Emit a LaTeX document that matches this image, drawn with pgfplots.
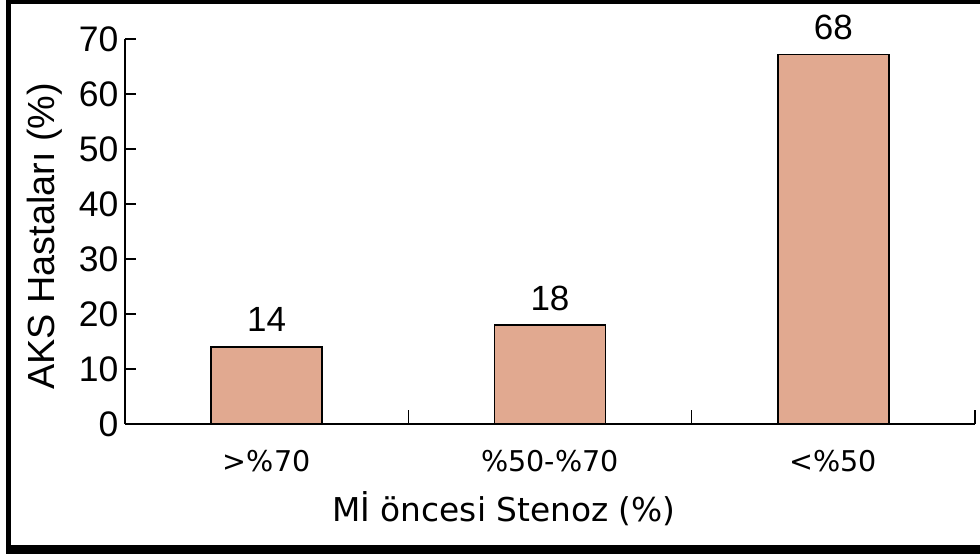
\documentclass[border=0pt]{standalone}
\usepackage{pgfplots}
\pgfplotsset{compat=1.18}
\usepackage{fontspec}
\setmainfont{Liberation Sans}
\newfontfamily\dejavu{DejaVu Sans}
\definecolor{barfill}{RGB}{225,169,144}
\begin{document}
\begin{tikzpicture}[x=1pt,y=1pt]
\useasboundingbox (0,0) rectangle (980,554);
\fill[black] (6,0) rectangle (11,554);
\fill[black] (6,550) rectangle (980,554);
\fill[black] (6,0) rectangle (980,9);
\begin{axis}[
  at={(125pt,130pt)}, anchor=south west,
  scale only axis, width=850pt, height=385pt,
  xmin=-0.5, xmax=2.5, ymin=0, ymax=70,
  clip=false,
  ybar, bar width=111pt,
  axis lines*=left,
  axis line style={line width=1.5pt},
  tick align=inside,
  ytick={0,10,...,70},
  ytick style={line width=1.5pt, black},
  major tick length=11pt,
  xtick={0,1,2},
  xticklabels={>\%70, \%50-\%70, <\%50},
  xtick style={draw=none},
  extra x ticks={0.5,1.5,2.5},
  extra x tick labels={},
  extra x tick style={xtick style={draw=black, line width=1.5pt}, major tick length=14pt},
  /pgf/number format/assume math mode=true,
  yticklabel style={font=\fontsize{35.5}{42}\selectfont, xshift=-3pt},
  xticklabel style={font=\dejavu\fontsize{28.6}{34}\selectfont, anchor=base, yshift=-48pt},
  xlabel={Mİ öncesi Stenoz (\%)},
  xlabel style={font=\dejavu\fontsize{32.8}{39}\selectfont, at={(axis description cs:0.446,-0.2545)}, anchor=base},
  ylabel={AKS Hastaları (\%)},
  ylabel style={font=\fontsize{37.8}{45}\selectfont, at={(axis description cs:-0.0941,0.488)}, anchor=center},
  point meta=explicit symbolic,
  nodes near coords,
  nodes near coords style={font=\fontsize{35}{42}\selectfont, anchor=base, yshift=15pt, black},
]
\addplot[ybar, fill=barfill, draw=black, line width=1.5pt] coordinates {(0,14) [14] (1,18) [18] (2,67.2) [68]};
\end{axis}
\end{tikzpicture}
\end{document}
